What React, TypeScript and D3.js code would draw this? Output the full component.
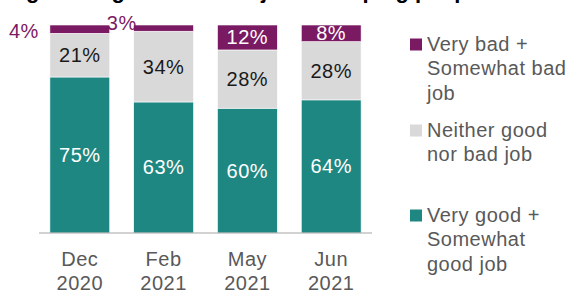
import React from "react";
import * as d3 from "d3";

// Data
const categories = ["Dec|2020", "Feb|2021", "May|2021", "Jun|2021"];
const badJob = [4, 3, 12, 8];
const neitherJob = [21, 34, 28, 28];
const goodJob = [75, 63, 60, 64];

const seriesKeys = ["good", "neither", "bad"];
const seriesLabels = [
  ["Very bad +", "Somewhat bad", "job"],
  ["Neither good", "nor bad job"],
  ["Very good +", "Somewhat", "good job"],
];

const colors: Record<string, string> = {
  good: "#1F8782",
  neither: "#D9D9D9",
  bad: "#7A1A62",
};
const labelColors: Record<string, string> = {
  good: "#FFFFFF",
  neither: "#1A1A1A",
  bad: "#FFFFFF",
};

const titleText = "Rating of the government's job in keeping people safe";

const width = 570;
const height = 291;
const margin = { top: 25, left: 39, right: 198, bottom: 58 };
const font = "'Liberation Sans', Arial, sans-serif";

export default function App() {
  const rows = categories.map((c, i) => ({
    cat: c,
    good: goodJob[i],
    neither: neitherJob[i],
    bad: badJob[i],
  }));

  const stack = d3.stack<any>().keys(seriesKeys);
  const stacked = stack(rows);

  const x = d3
    .scaleBand()
    .domain(categories)
    .range([margin.left, width - margin.right])
    .paddingInner(0.286)
    .paddingOuter(0.13);

  const y = d3
    .scaleLinear()
    .domain([0, 100])
    .range([height - margin.bottom, margin.top]);

  const fs = 20;
  const ls = 0.5;

  return (
    <svg
      width={width}
      height={height}
      style={{ position: "absolute", left: 0, top: 0, background: "#fff" }}
      fontFamily={font}
    >
      {/* title, clipped by the top edge as in the source */}
      <text x={-29} y={-2} fontSize={22} fontWeight="bold" fill="#000">
        {titleText}
      </text>

      {stacked.map((layer) => (
        <g key={layer.key}>
          {layer.map((d, i) => {
            const x0 = x(categories[i])!;
            const bw = x.bandwidth();
            const y0 = y(d[1]);
            const h = y(d[0]) - y(d[1]);
            const v = d[1] - d[0];
            const cy = y0 + h / 2;
            let lx = x0 + bw / 2;
            let ly = cy + fs * 0.35;
            let anchor = "middle";
            let fill = labelColors[layer.key];
            // small values sit outside the bar
            if (v < 5) {
              anchor = "end";
              fill = colors.bad;
              if (i === 0) {
                lx = x0 - 11;
                ly = cy + fs * 0.35 + 2;
              } else {
                lx = x0 + 3;
                ly = cy + fs * 0.35 - 5;
              }
            }
            return (
              <g key={i}>
                <rect
                  x={x0}
                  y={y0}
                  width={bw}
                  height={h}
                  fill={colors[layer.key]}
                  stroke="#fff"
                  strokeWidth={0.6}
                />
                <text
                  x={lx}
                  y={ly}
                  textAnchor={anchor}
                  fontSize={fs}
                  letterSpacing={ls}
                  fill={fill}
                >
                  {v}%
                </text>
              </g>
            );
          })}
        </g>
      ))}

      {/* baseline */}
      <line
        x1={margin.left}
        x2={width - margin.right}
        y1={y(0)}
        y2={y(0)}
        stroke="#A6A6A6"
        strokeWidth={1.2}
      />

      {/* category labels */}
      {categories.map((c) => (
        <text
          key={c}
          x={x(c)! + x.bandwidth() / 2}
          y={y(0) + 33}
          textAnchor="middle"
          fontSize={fs}
          letterSpacing={ls}
          fill="#595959"
        >
          {c.split("|").map((t, j) => (
            <tspan key={j} x={x(c)! + x.bandwidth() / 2} dy={j === 0 ? 0 : 24}>
              {t}
            </tspan>
          ))}
        </text>
      ))}

      {/* legend */}
      {[
        { key: "bad", top: 38.5 },
        { key: "neither", top: 124.5 },
        { key: "good", top: 209.5 },
      ].map((l, k) => (
        <g key={l.key}>
          <rect x={410} y={l.top} width={12} height={12} fill={colors[l.key]} />
          <text
            x={427}
            y={l.top + 12}
            fontSize={fs}
            letterSpacing={ls}
            fill="#595959"
          >
            {seriesLabels[k].map((t, j) => (
              <tspan key={j} x={427} dy={j === 0 ? 0 : 24.5}>
                {t}
              </tspan>
            ))}
          </text>
        </g>
      ))}
    </svg>
  );
}
